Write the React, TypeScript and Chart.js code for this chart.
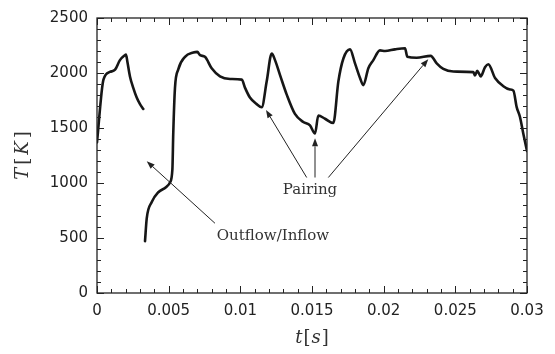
import React, { useEffect, useRef } from "react";
import { Chart, registerables } from "chart.js";

Chart.register(...registerables);

// ---- data (t in seconds, T in kelvin); null marks the break between the two curve pieces
const timeS: number[] = [
  0, 0.00045, 0.0009, 0.00126, 0.0016, 0.00195, 0.00202, 0.00212, 0.0023, 0.00253, 0.00277, 0.003, 0.00323,
  0.0033,
  0.00335, 0.00347, 0.00382, 0.00428, 0.00481, 0.00509, 0.00526, 0.00532, 0.00544, 0.00567, 0.00614, 0.00672,
  0.007, 0.00719, 0.00753, 0.008, 0.00858, 0.00928, 0.0101, 0.01033, 0.01067, 0.01114, 0.01149, 0.01184,
  0.01219, 0.01242, 0.0128, 0.01323, 0.01381, 0.01439, 0.01486, 0.01521, 0.01544, 0.01591, 0.01649, 0.01684,
  0.01719, 0.01765, 0.018, 0.01835, 0.01858, 0.01893, 0.01928, 0.01974, 0.0201, 0.02079, 0.02149, 0.02165,
  0.0223, 0.02328, 0.0237, 0.02416, 0.02486, 0.02626, 0.02637, 0.02653, 0.02677, 0.02707, 0.0273, 0.02777,
  0.02835, 0.02881, 0.02905, 0.02928, 0.02951, 0.02974, 0.03,
];
const tempK: (number | null)[] = [
  1370, 1940, 2010, 2030, 2117, 2162, 2168, 2103, 1969, 1865, 1777, 1717, 1673,
  null,
  472, 679, 827, 916, 961, 1005, 1124, 1450, 1865, 2033, 2147, 2186,
  2192, 2162, 2147, 2043, 1969, 1946, 1940, 1865, 1777, 1717, 1688, 1924,
  2177, 2117, 1969, 1806, 1628, 1554, 1524, 1450, 1613, 1584, 1545, 1924,
  2132, 2215, 2088, 1955, 1889, 2043, 2117, 2206, 2200, 2215, 2225, 2147,
  2138, 2156, 2088, 2037, 2013, 2008, 1978, 2020, 1969, 2052, 2079, 1955,
  1880, 1850, 1840, 1690, 1600, 1450, 1290,
];

const xTickValues = [0, 0.005, 0.01, 0.015, 0.02, 0.025, 0.03];
const xTickLabels = ["0", "0.005", "0.01", "0.015", "0.02", "0.025", "0.03"];
const yTickValues = [0, 500, 1000, 1500, 2000, 2500];
const yTickLabels = ["0", "500", "1000", "1500", "2000", "2500"];
const xMinorCount = 30; // minor ticks every 0.001
const yMinorCount = 25; // minor ticks every 100 K

// annotations in data coordinates
const annotationLabels = ["Pairing", "Outflow/Inflow"];
const annotationT = [0.01486, 0.01228];
const annotationK = [934, 516];
// arrows: tail -> head
const arrowTailT = [0.00823, 0.01463, 0.01521, 0.01614];
const arrowTailK = [634, 1050, 1050, 1050];
const arrowHeadT = [0.00347, 0.01179, 0.01521, 0.02311];
const arrowHeadK = [1198, 1664, 1406, 2126];

const INK = "#222";

function drawPieces(ctx: CanvasRenderingContext2D, pieces: [string, boolean][], size: number, gap: number, cx: number, cy: number, rotate: boolean) {
  ctx.save();
  ctx.translate(cx, cy);
  if (rotate) ctx.rotate(-Math.PI / 2);
  const fontFor = (it: boolean) => `${it ? "italic " : ""}${size}px "DejaVu Serif"`;
  const widths = pieces.map(([s, it]) => {
    ctx.font = fontFor(it);
    return ctx.measureText(s).width;
  });
  const total = widths.reduce((a, b) => a + b, 0) + gap * (pieces.length - 1);
  let x = -total / 2;
  ctx.fillStyle = "#333";
  ctx.textBaseline = "middle";
  ctx.textAlign = "left";
  pieces.forEach(([s, it], i) => {
    ctx.font = fontFor(it);
    ctx.fillText(s, x, 0);
    x += widths[i] + gap;
  });
  ctx.restore();
}

const decorPlugin = {
  id: "decor",
  afterDraw(chart: any) {
    const { ctx, chartArea } = chart;
    const xs = chart.scales.x;
    const ys = chart.scales.y;
    const { left, right, top, bottom } = chartArea;
    ctx.save();
    ctx.strokeStyle = INK;
    ctx.lineWidth = 1.3;
    ctx.strokeRect(left, top, right - left, bottom - top);
    ctx.lineWidth = 1;
    ctx.beginPath();
    for (let i = 0; i <= xMinorCount; i++) {
      const v = (xs.max - xs.min) * (i / xMinorCount) + xs.min;
      const px = Math.round(xs.getPixelForValue(v)) + 0.5;
      const len = i % 5 === 0 ? 7 : 4;
      ctx.moveTo(px, bottom);
      ctx.lineTo(px, bottom - len);
      ctx.moveTo(px, top);
      ctx.lineTo(px, top + len);
    }
    for (let i = 0; i <= yMinorCount; i++) {
      const v = (ys.max - ys.min) * (i / yMinorCount) + ys.min;
      const py = Math.round(ys.getPixelForValue(v)) + 0.5;
      const len = i % 5 === 0 ? 7 : 4;
      ctx.moveTo(left, py);
      ctx.lineTo(left + len, py);
      ctx.moveTo(right, py);
      ctx.lineTo(right - len, py);
    }
    ctx.stroke();

    ctx.strokeStyle = "#222";
    ctx.fillStyle = "#222";
    ctx.lineWidth = 1;
    for (let i = 0; i < arrowTailT.length; i++) {
      const x0 = xs.getPixelForValue(arrowTailT[i]);
      const y0 = ys.getPixelForValue(arrowTailK[i]);
      const x1 = xs.getPixelForValue(arrowHeadT[i]);
      const y1 = ys.getPixelForValue(arrowHeadK[i]);
      const ang = Math.atan2(y1 - y0, x1 - x0);
      const hl = 8;
      const hw = 3;
      const bx = x1 - hl * Math.cos(ang);
      const by = y1 - hl * Math.sin(ang);
      ctx.beginPath();
      ctx.moveTo(x0, y0);
      ctx.lineTo(bx, by);
      ctx.stroke();
      ctx.beginPath();
      ctx.moveTo(x1, y1);
      ctx.lineTo(bx + hw * Math.sin(ang), by - hw * Math.cos(ang));
      ctx.lineTo(bx - hw * Math.sin(ang), by + hw * Math.cos(ang));
      ctx.closePath();
      ctx.fill();
    }

    ctx.font = '15px "DejaVu Serif"';
    ctx.fillStyle = "#333";
    ctx.textAlign = "center";
    ctx.textBaseline = "middle";
    for (let i = 0; i < annotationLabels.length; i++) {
      ctx.fillText(annotationLabels[i], xs.getPixelForValue(annotationT[i]), ys.getPixelForValue(annotationK[i]));
    }
    ctx.restore();

    drawPieces(ctx, [["t", true], ["[", false], ["s", true], ["]", false]], 18, 1, (left + right) / 2, 338, false);
    drawPieces(ctx, [["T", true], ["[", false], ["K", true], ["]", false]], 18, 3, 23, (top + bottom) / 2, true);
  },
};

export default function App() {
  const canvasRef = useRef<HTMLCanvasElement | null>(null);

  useEffect(() => {
    const canvas = canvasRef.current;
    if (!canvas) return;
    const points = timeS.map((t, i) => ({ x: t, y: tempK[i] }));
    const chart = new Chart(canvas, {
      type: "line",
      data: {
        datasets: [
          {
            data: points as any,
            borderColor: "#161616",
            borderWidth: 2.6,
            pointRadius: 0,
            fill: false,
            spanGaps: false,
            cubicInterpolationMode: "monotone",
            borderJoinStyle: "round",
            borderCapStyle: "round",
          },
        ],
      },
      options: {
        responsive: false,
        animation: false,
        devicePixelRatio: 1,
        layout: { padding: { left: 0, top: 12, right: 28, bottom: 0 } },
        plugins: { legend: { display: false }, tooltip: { enabled: false } },
        scales: {
          x: {
            type: "linear",
            min: 0,
            max: 0.03,
            grid: { display: false, drawTicks: false },
            border: { display: false },
            ticks: {
              color: INK,
              font: { family: "DejaVu Sans", size: 15 },
              padding: 9,
              maxRotation: 0,
              autoSkip: false,
              callback: (_v: any, i: number) => xTickLabels[i],
            },
            afterBuildTicks: (s: any) => {
              s.ticks = xTickValues.map((v) => ({ value: v }));
            },
            afterFit: (s: any) => {
              s.height = 61;
            },
          },
          y: {
            type: "linear",
            min: 0,
            max: 2500,
            grid: { display: false, drawTicks: false },
            border: { display: false },
            ticks: {
              color: INK,
              font: { family: "DejaVu Sans", size: 15 },
              padding: 9,
              autoSkip: false,
              callback: (_v: any, i: number) => yTickLabels[i],
            },
            afterBuildTicks: (s: any) => {
              s.ticks = yTickValues.map((v) => ({ value: v }));
            },
            afterFit: (s: any) => {
              s.width = 97;
            },
          },
        },
      },
      plugins: [decorPlugin],
    });
    return () => chart.destroy();
  }, []);

  return (
    <div style={{ position: "fixed", left: 0, top: 0, width: 555, height: 354, background: "#fff" }}>
      <canvas ref={canvasRef} width={555} height={354} style={{ display: "block" }} />
    </div>
  );
}
